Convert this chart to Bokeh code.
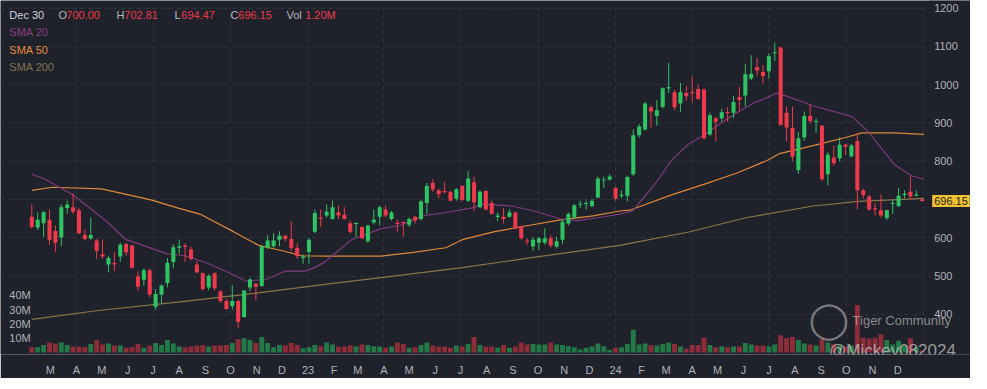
import numpy as np
import pandas as pd
from bokeh.plotting import figure
from bokeh.models import Range1d, FixedTicker, Label, ColumnDataSource, Grid, BoxAnnotation
from bokeh.embed import file_html
from bokeh.resources import INLINE

# ---------------- data (weekly candles) ----------------
week_start = "2022-02-07"
opens = [655, 627, 638, 647, 618, 601, 678, 680, 672, 607, 598, 593, 557, 530, 534, 551, 584, 580, 499, 490,
         515, 420, 451, 482, 537, 574, 580, 570, 530, 507, 470, 507, 460, 435, 422, 435, 393, 470, 480, 474,
         574, 578, 595, 605, 597, 574, 547, 563, 616, 653, 658, 649, 666, 660, 638, 636, 628, 591, 640, 655,
         674, 649, 639, 641, 634, 655, 649, 691, 743, 724, 722, 720, 702, 735, 697, 745, 680, 722, 691, 654,
         655, 655, 666, 630, 592, 577, 587, 587, 599, 577, 595, 637, 653, 686, 688, 683, 705, 750, 752, 730,
         710, 710, 766, 868, 883, 941, 918, 942, 990, 980, 951, 978, 980, 989, 987, 870, 912, 912, 928, 927,
         968, 972, 1016, 1046, 1033, 1035, 1082, 1097, 927, 887, 777, 862, 918, 903, 893, 766, 810, 808, 843, 813,
         853, 724, 708, 677, 672, 652, 688, 683, 712, 720, 710, 700.00]
highs = [687, 666, 670, 674, 632, 687, 697, 716, 678, 622, 653, 597, 595, 553, 563, 587, 587, 582, 512, 520,
         520, 466, 478, 547, 583, 595, 585, 577, 538, 510, 505, 510, 462, 441, 477, 438, 463, 495, 482, 580,
         607, 612, 617, 607, 643, 587, 557, 599, 674, 674, 687, 697, 684, 680, 645, 641, 631, 634, 674, 684,
         684, 670, 648, 643, 653, 658, 699, 743, 753, 728, 745, 722, 730, 737, 774, 760, 724, 724, 697, 666,
         678, 674, 668, 632, 599, 602, 602, 624, 607, 602, 649, 666, 688, 697, 697, 702, 760, 760, 766, 733,
         724, 762, 883, 897, 955, 945, 960, 993, 1057, 987, 1005, 997, 1022, 999, 991, 927, 916, 937, 941, 970,
         995, 1055, 1077, 1070, 1052, 1082, 1110, 1099, 943, 943, 877, 930, 947, 912, 895, 824, 841, 862, 845, 845,
         874, 728, 712, 691, 713, 674, 699, 730, 724, 760, 724, 702.81]
lows = [624, 620, 602, 582, 562, 578, 663, 662, 610, 593, 595, 545, 545, 510, 513, 537, 553, 520, 463, 474,
        445, 412, 428, 470, 520, 558, 537, 541, 507, 462, 463, 462, 430, 412, 412, 363, 391, 460, 437, 472,
        570, 574, 578, 591, 566, 545, 532, 532, 612, 628, 653, 647, 649, 647, 610, 603, 597, 587, 635, 632,
        653, 645, 616, 603, 628, 637, 645, 662, 720, 703, 716, 695, 697, 695, 693, 670, 678, 672, 660, 643,
        637, 652, 622, 595, 582, 566, 568, 582, 574, 572, 583, 632, 649, 678, 674, 680, 703, 730, 749, 697,
        703, 695, 762, 862, 880, 888, 893, 938, 978, 933, 928, 958, 953, 960, 857, 866, 852, 903, 903, 913,
        932, 943, 1012, 1022, 1003, 1016, 1062, 893, 852, 799, 768, 853, 899, 874, 747, 737, 788, 799, 816, 810,
        674, 702, 670, 658, 653, 647, 662, 680, 703, 699, 708, 694.47]
closes = [628, 647, 667, 595, 587, 680, 687, 668, 612, 597, 607, 566, 551, 547, 531, 582, 562, 522, 472, 515,
          452, 453, 475, 535, 575, 578, 576, 545, 510, 466, 501, 468, 435, 414, 435, 380, 462, 491, 472, 578,
          593, 593, 605, 597, 574, 552, 551, 595, 665, 650, 668, 680, 658, 649, 616, 638, 599, 632, 647, 680,
          658, 666, 636, 638, 649, 645, 695, 735, 726, 714, 719, 697, 727, 699, 755, 693, 720, 674, 663, 658,
          649, 666, 624, 599, 590, 595, 599, 599, 580, 591, 642, 662, 685, 689, 691, 697, 755, 752, 760, 702,
          712, 759, 868, 891, 951, 930, 933, 991, 993, 941, 980, 970, 978, 963, 860, 920, 903, 928, 926, 955,
          960, 1027, 1028, 1037, 1023, 1074, 1084, 895, 888, 812, 860, 918, 905, 905, 753, 817, 795, 843, 838, 841,
          724, 712, 674, 674, 658, 672, 690, 710, 715, 708, 713, 696.15]
volumes_m = [3.8, 3.8, 5.3, 7.1, 6.4, 7.1, 5.3, 4.2, 4.2, 3.8, 6.0, 8.7, 5.6, 6.4, 4.9, 4.9, 3.3, 3.8, 6.0, 3.3,
             4.9, 6.7, 5.3, 8.7, 6.4, 4.2, 3.8, 4.2, 4.9, 5.3, 4.2, 4.9, 4.9, 5.3, 6.7, 9.3, 10.0, 8.7, 6.7, 10.9,
             6.7, 3.8, 5.3, 4.9, 6.7, 5.3, 3.1, 3.8, 5.3, 4.5, 7.1, 5.6, 4.2, 4.2, 4.9, 4.2, 5.6, 5.3, 4.4, 4.2,
             3.3, 4.2, 7.1, 6.0, 3.3, 3.8, 5.3, 7.1, 4.9, 4.2, 4.2, 3.3, 4.9, 4.2, 6.0, 10.9, 5.3, 4.2, 4.2, 3.3,
             5.3, 3.3, 4.2, 7.1, 5.6, 6.0, 5.6, 5.6, 7.1, 5.6, 5.3, 4.4, 3.8, 2.2, 3.3, 4.2, 6.4, 4.4, 2.0, 3.3,
             3.8, 6.0, 16.0, 5.6, 6.4, 5.3, 4.9, 6.0, 7.1, 6.0, 4.2, 2.7, 5.3, 5.3, 10.4, 5.3, 3.8, 4.4, 3.8, 4.2,
             4.2, 6.7, 5.6, 4.9, 4.9, 4.2, 5.6, 12.0, 10.0, 10.9, 8.7, 6.4, 5.6, 4.9, 9.3, 7.1, 6.0, 4.9, 4.2, 4.9,
             33.1, 10.4, 9.8, 10.4, 12.7, 8.7, 5.6, 8.2, 4.9, 10.0, 3.8, 1.2]

# moving averages (week index -> value)
sma20_wk = [0, 2, 7, 12.5, 16, 23, 26, 30, 33, 36.3, 39.7, 43, 46.3, 48, 49.7, 54.2, 59.2, 62.5, 66.3, 70.2,
            74.7, 76.4, 81.4, 85.2, 89.7, 92.5, 96.3, 99.7, 101.9, 105.9, 108.5, 111.4, 114.2, 116.8, 119.7,
            122.5, 124.7, 126.3, 128, 132.5, 139.2, 141.8, 146.3, 149.2, 151.3]
sma20_val = [766, 755, 712, 645, 595, 558, 553, 532, 512, 487, 491, 513, 513, 522, 537, 595, 624, 632, 657, 666,
             678, 688, 683, 670, 649, 645, 653, 662, 670, 745, 803, 845, 870, 899, 928,
             953, 966, 978, 970, 945, 916, 878, 791, 762, 753]
sma50_wk = [0, 3.5, 11.8, 14.7, 20.2, 24.7, 28.5, 34.2, 38.5, 42.5, 45.8, 49.7, 59.2, 64.7, 70.2, 73, 78.5,
            84.2, 89.7, 95.2, 99.7, 101.4, 108.5, 114.2, 119.7, 124.7, 126.8, 132.5, 138, 140.8, 146.3, 151.3]
sma50_val = [724, 732, 728, 718, 699, 678, 662, 616, 580, 566, 553, 552, 552, 562, 574, 595, 616,
             632, 647, 657, 670, 672, 712, 741, 770, 802, 820, 841, 862, 874, 874, 870]
sma200_wk = [0, 11.3, 24.7, 36.3, 49.7, 61.3, 73, 84.7, 99.7, 111.4, 121.3, 132.5, 140.2, 151.3]
sma200_val = [387, 410, 432, 452, 478, 500, 522, 548, 580, 615, 653, 683, 695, 703]

price_ticks = [400, 500, 600, 700, 800, 900, 1000, 1100, 1200]
vol_ticks_m = [10, 20, 30, 40]
vol_tick_labels = ["10M", "20M", "30M", "40M"]
month_labels = ["M", "A", "M", "J", "J", "A", "S", "O", "N", "D",
                "23", "F", "M", "A", "M", "J", "J", "A", "S", "O", "N", "D",
                "24", "F", "M", "A", "M", "J", "J", "A", "S", "O", "N", "D"]
header_date = "Dec 30"
header_vol = "1.20M"

# ---------------- styling ----------------
BG = "#1f222a"
GRID = "#30343f"
UP = "#2fc463"
DOWN = "#ee3a4c"
VUP = "#237a48"
VDOWN = "#8e2c3a"
C20 = "#7e3b7e"
C50 = "#e0883a"
C200 = "#8a7748"
AXIS_TXT = "#b0b3bb"
FONT = "Liberation Sans"

REF = pd.Timestamp("2023-01-01")
dates = pd.date_range(week_start, periods=len(closes), freq="7D")
xd = np.asarray((dates - REF).days, dtype=float)
o = np.array(opens, float); h = np.array(highs, float)
l = np.array(lows, float); c = np.array(closes, float)
up = c >= o
top = np.maximum(o, c); bot = np.minimum(o, c)
top = np.where(top - bot < 2.6, bot + 2.6, top)

src = ColumnDataSource(dict(x=xd, o=o, h=h, l=l, c=c, top=top, bot=bot,
                            col=np.where(up, UP, DOWN),
                            vol=np.array(volumes_m), vcol=np.where(up, VUP, VDOWN)))

def wk_to_x(w):
    return (pd.Timestamp(week_start) - REF).days + 7 * np.asarray(w, float)

# layout: the frame spans the full width; price scale is drawn as text on the right
FW, FH = 970, 354
REF_W, REF_H = 987, 370          # reference picture width / plot height
SX, SY = FW / REF_W, FH / REF_H
PX_PER_DAY = 6.0 / 7.0           # reference: 6 px per week
X0_REF = 313                      # reference x of 2023-01-01
def day_of_refx(xr):
    return (xr - X0_REF) / PX_PER_DAY

p = figure(frame_width=FW, frame_height=FH,
           x_range=Range1d(day_of_refx(0), day_of_refx(REF_W)), y_range=Range1d(295, 1220),
           y_axis_location=None, output_backend="svg", toolbar_location=None,
           min_border=0, background_fill_color=BG, border_fill_color=BG,
           outline_line_color=None)
p.extra_y_ranges = {"vol": Range1d(-1.33, 245.3)}

# x axis (months)
month_x = [int((d - REF).days) for d in pd.date_range("2022-03-01", periods=len(month_labels), freq="MS")]
p.xaxis.ticker = FixedTicker(ticks=month_x)
p.xaxis.major_label_overrides = {mx: lab for mx, lab in zip(month_x, month_labels)}
ax = p.xaxis[0]
ax.axis_line_color = None
ax.major_tick_line_color = None
ax.minor_tick_line_color = None
ax.major_label_text_color = AXIS_TXT
ax.major_label_text_font = FONT
ax.major_label_text_font_size = "11px"
ax.major_label_standoff = 3

quarter_x = [int((d - REF).days) for d in pd.date_range("2022-04-01", "2025-01-01", freq="QS")]
for g in list(p.xgrid) + list(p.ygrid):
    g.visible = False
p.add_layout(Grid(dimension=0, ticker=FixedTicker(ticks=quarter_x), grid_line_color=GRID,
                  grid_line_dash="4 4", grid_line_width=1))
p.add_layout(Grid(dimension=1, ticker=FixedTicker(ticks=price_ticks), grid_line_color=GRID,
                  grid_line_dash="4 4", grid_line_width=1))
# price-scale strip on the right (covers the grid there)
p.add_layout(BoxAnnotation(left=day_of_refx(945), fill_color=BG, fill_alpha=1.0,
                           line_color=None, level="underlay"))

# volume
p.vbar(x="x", width=5.8, top="vol", bottom=0, fill_color="vcol", line_color=None,
       y_range_name="vol", source=src)

# moving averages
p.line(wk_to_x(sma200_wk), sma200_val, line_color=C200, line_width=1.2)
p.line(wk_to_x(sma50_wk), sma50_val, line_color=C50, line_width=1.2)
p.line(wk_to_x(sma20_wk), sma20_val, line_color=C20, line_width=1.2)

# candles
p.segment(x0="x", y0="l", x1="x", y1="h", line_color="col", line_width=1, source=src)
p.vbar(x="x", width=4.8, top="top", bottom="bot", fill_color="col", line_color=None, source=src)

# ---------- texts ----------
def fx(xr):
    return xr * SX
def fy(yr):
    return FH - yr * SY

def lab(xr, yr, text, color, size="11px", align="left", alpha=1.0, font=FONT):
    p.add_layout(Label(x=fx(xr), y=fy(yr), x_units="screen", y_units="screen", text=text,
                       text_color=color, text_font=font, text_font_size=size, text_align=align,
                       text_baseline="middle", text_alpha=alpha))

HDR_GREY = "#b7bac2"
lab(9, 15, header_date, "#d1d4dc")
lab(59, 15, "O", HDR_GREY); lab(67, 15, f"{opens[-1]:.2f}", DOWN)
lab(118, 15, "H", HDR_GREY); lab(126, 15, f"{highs[-1]:.2f}", DOWN)
lab(177, 15, "L", HDR_GREY); lab(184, 15, f"{lows[-1]:.2f}", DOWN)
lab(234, 15, "C", HDR_GREY); lab(242, 15, f"{closes[-1]:.2f}", DOWN)
lab(291, 15, "Vol", HDR_GREY); lab(310, 15, header_vol, DOWN)
lab(9, 33, "SMA 20", "#8a3f86")
lab(9, 52, "SMA 50", "#e68a3e")
lab(9, 70, "SMA 200", "#7f7550")

# price scale labels (right)
for t in price_ticks:
    p.add_layout(Label(x=fx(950), y=t, x_units="screen", text=str(t),
                       text_color=AXIS_TXT, text_font=FONT, text_font_size="11px",
                       text_baseline="middle"))

# volume scale labels (left)
for v, t in zip(vol_ticks_m, vol_tick_labels):
    p.add_layout(Label(x=fx(9), y=v, x_units="screen", y_range_name="vol", text=t,
                       text_color=AXIS_TXT, text_font=FONT, text_font_size="11px",
                       text_baseline="middle"))

# last price tag
p.add_layout(Label(x=fx(948), y=closes[-1], x_units="screen", text=f"{closes[-1]:.2f}",
                   text_color="#1b1b1b", text_font=FONT, text_font_size="11px",
                   text_baseline="middle", background_fill_color="#f1c232", padding=2))

# watermark
lab(843, 333, "\u25EF", "#c8c8c8", size="36px", align="center", alpha=0.55, font="DejaVu Sans")
lab(867, 334, "Tiger Community", "#a8a8a8", size="13px", alpha=0.8)
lab(843, 366, "@Mickey082024", "#d0d0d0", size="17px", alpha=0.7)

open("out.html", "w").write(file_html(p, INLINE))
